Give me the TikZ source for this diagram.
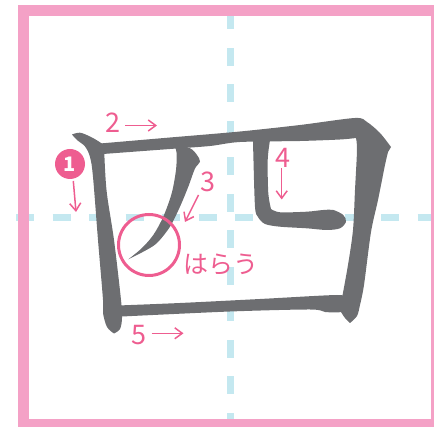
\documentclass[tikz,border=0pt]{standalone}
\usepackage{fontspec}
\setmainfont{Noto Sans CJK JP}
\usetikzlibrary{arrows.meta}
\definecolor{frame}{HTML}{F4A1C6}
\definecolor{ink}{HTML}{6D6E71}
\definecolor{guide}{HTML}{C4E8F0}
\definecolor{accent}{HTML}{EE5D90}
\tikzset{
  stroke/.style={fill=ink},
  guideline/.style={guide, line width=7pt, dash pattern=on 18pt off 18.5pt},
  order/.style={accent, line width=1.5pt, -{Straight Barb[length=7.5pt,width=11pt]}},
  num/.style={accent, inner sep=0pt, font=\fontsize{27}{27}\selectfont},
  badge/.style={circle, fill=accent, text=white, inner sep=0pt, minimum size=30pt,
    font=\fontsize{20}{20}\selectfont\bfseries},
  ring/.style={circle, draw=accent, line width=3pt, inner sep=0pt, minimum size=61pt}
}
\begin{document}
\begin{tikzpicture}[x=1pt, y=-1pt]
  \useasboundingbox (0,0) rectangle (434,427);
  \clip (0,0) rectangle (434,427);
  % guide lines
  \draw[guideline] (230.5,11.5) -- (230.5,440);
  \draw[guideline] (16,218) -- (440,218);
  % frame
  \draw[frame, line width=11pt] (23.5,10.5) rectangle (436.5,424.5);
  % stroke 1
  \fill[stroke] plot[smooth, tension=.55] coordinates {(72,134.5) (80,132.7) (90,136.5) (98,141) (104,145)}
    -- plot[smooth, tension=.55] coordinates {(104,145) (106.5,190) (114,240) (121,300) (122,318) (120,329) (114,333.5)}
    -- plot[smooth, tension=.55] coordinates {(114,333.5) (107,327) (103,313) (103,300) (98,240) (93,177) (90,157) (85,146.5) (77,140) (72,134.5)} -- cycle;
  % stroke 2
  \fill[stroke] plot[smooth, tension=.5] coordinates {(100,143.5) (170,137.5) (240,131.5) (300,125) (355,118) (367,122) (380,133) (391,147)}
    -- plot[smooth, tension=.5] coordinates {(388,152) (385,165) (378,200) (371,232) (364,285) (360,305) (357,316) (350,323)}
    -- plot[smooth, tension=.5] coordinates {(350,323) (345,318) (341,312)}
    -- plot[smooth, tension=.5] coordinates {(342,298) (348,265) (353,230) (355,190) (357,150) (356,138)}
    -- plot[smooth, tension=.5] coordinates {(356,138) (340,139.5) (300,141) (240,142) (210,146) (170,149) (103,154)}
    -- cycle;
  % stroke 3
  \fill[stroke] plot[smooth, tension=.5] coordinates {(175,147) (190,148.3) (197,155) (200,161.7) (195,168.5) (188.3,186.7) (180,206.7) (170,226.7) (156.7,243.3) (143.3,251.7) (128.3,259.3)}
    -- plot[smooth, tension=.5] coordinates {(128.3,259.3) (141.7,248.3) (153.3,235) (163.3,216.7) (171.7,193.3) (176,170) (176.7,153.3) (175,147)} -- cycle;
  % stroke 4
  \fill[stroke] plot[smooth, tension=.5] coordinates {(253,138) (253.3,153.3) (255,206.7) (258,217) (265,224) (280,226.7) (306.7,228.3) (326.7,230) (340,228.3) (346,221.7) (343.3,215) (333.3,210) (323.3,210) (306.7,211.7) (280,212.3) (271,209)}
    -- plot[smooth, tension=.5] coordinates {(271,209) (268.3,193.3) (267.7,160) (270,140)} -- cycle;
  % stroke 5
  \fill[stroke] plot[smooth, tension=.5] coordinates {(118,305.5) (180,303) (260,299) (337,295) (344,298)}
    -- (346,311) -- plot[smooth, tension=.5] coordinates {(338,312.5) (325,312) (310,309.5) (230,311.5) (122,316.5)} -- cycle;
  % stroke order
  \node[badge] (n1) at (70,164) {1};
  \coordinate (a1s) at (73.3,181); \coordinate (a1e) at (76,212);
  \draw[order] (a1s) -- (a1e);
  \node[num] (n2) at (113,122.7) {2};
  \coordinate (a2s) at (125,125.5); \coordinate (a2e) at (157,125.5);
  \draw[order] (a2s) -- (a2e);
  \node[num] (n3) at (208.3,181.7) {3};
  \coordinate (a3s) at (198.5,195); \coordinate (a3e) at (185,222);
  \draw[order] (a3s) -- (a3e);
  \node[num] (n4) at (283,157.5) {4};
  \coordinate (a4s) at (281.7,168.3); \coordinate (a4e) at (281.7,199.5);
  \draw[order] (a4s) -- (a4e);
  \node[num] (n5) at (139,335) {5};
  \coordinate (a5s) at (151.7,333.3); \coordinate (a5e) at (183.5,333.3);
  \draw[order] (a5s) -- (a5e);
  % harai
  \node[ring] (harai) at (149,245) {};
  \node[num, font=\fontsize{25}{25}\selectfont] (word) at (220.5,265) {はらう};
\end{tikzpicture}
\end{document}
